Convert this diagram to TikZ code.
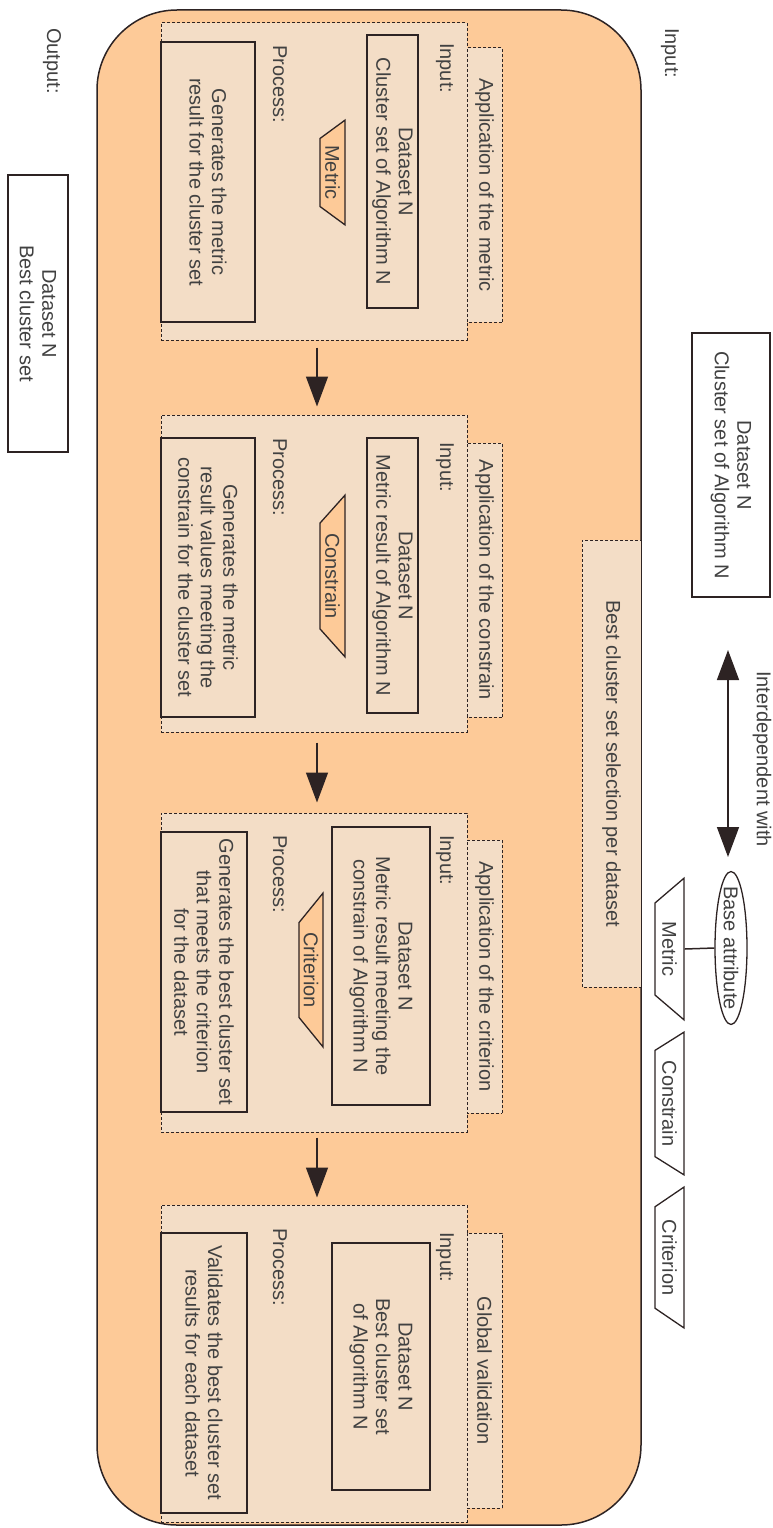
\documentclass[tikz,border=0pt]{standalone}
\usepackage{fontspec}
\setmainfont{Liberation Sans}
\usetikzlibrary{arrows.meta,shapes.geometric}

\definecolor{peach}{RGB}{253,202,152}
\definecolor{panelfill}{RGB}{243,221,198}
\definecolor{ink}{RGB}{45,35,35}
\definecolor{txtgray}{RGB}{65,65,65}

\tikzset{
  vtext/.style={rotate=-90, inner sep=0pt, text=txtgray, align=center,
                font=\fontsize{20}{22.5}\selectfont},
  solidbox/.style={vtext, draw=ink, line width=1.3pt, rectangle},
  dashbox/.style={draw=ink, line width=1pt, dash pattern=on 3pt off 2pt,
                  fill=panelfill, rectangle, inner sep=0pt},
  vdash/.style={vtext, dashbox},
  trap/.style={vtext, trapezium, trapezium stretches=true, draw=ink,
               line width=1.3pt},
  flow/.style={draw=ink, line width=1.5pt,
               -{Triangle[width=22pt,length=30pt]}},
}

\begin{document}
\begin{tikzpicture}[x=1pt, y=-1pt]
\useasboundingbox (0,0) rectangle (773,1528);

% outer container
\node[draw=ink, line width=1.5pt, fill=peach, rounded corners=80pt,
      minimum width=544pt, minimum height=1515pt, inner sep=0pt] (main) at (369,767.5) {};

% outside labels
\node[vtext, anchor=west] (inlabel) at (670,28) {Input:};
\node[vtext, anchor=west] (outlabel) at (52,28) {Output:};
\node[solidbox, minimum width=264pt, minimum height=78pt] (inbox) at (731,465)
  {Dataset N\\Cluster set of Algorithm N};
\node[solidbox, minimum width=277pt, minimum height=60pt] (outbox) at (38,313.5)
  {Dataset N\\Best cluster set};

% interdependency legend
\node[vtext] (inter) at (762,759) {Interdependent with};
\coordinate (ia) at (728,650);
\coordinate (ib) at (728,857);
\draw[draw=ink, line width=1.5pt,
      {Triangle[width=22pt,length=30pt]}-{Triangle[width=22pt,length=30pt]}] (ia) -- (ib);
\node[ellipse, draw=ink, line width=1.3pt, rotate=-90, inner sep=0pt,
      minimum width=153pt, minimum height=32pt] (attr) at (731,948) {};
\node[vtext] (attrtxt) at (attr.center) {Base attribute};
\node[trap, trapezium left angle=135, trapezium right angle=135,
      minimum width=142pt, minimum height=29pt] (lmet) at (669.5,949) {Metric};
\node[trap, trapezium left angle=135, trapezium right angle=135,
      minimum width=143pt, minimum height=29pt] (lcon) at (669.5,1103.5) {Constrain};
\node[trap, trapezium left angle=135, trapezium right angle=135,
      minimum width=141pt, minimum height=29pt] (lcri) at (669.5,1257.5) {Criterion};
\draw[draw=ink, line width=1.5pt] (attr.south) -- (lmet.top side);

% selection stage band
\node[vdash, minimum width=447pt, minimum height=59pt] (sel) at (611.5,763.5)
  {Best cluster set selection per dataset};

% stage 1: metric
\node[dashbox, minimum width=306pt, minimum height=317pt] (p1) at (314,181.5) {};
\node[vdash, minimum width=274pt, minimum height=35pt] (t1) at (484.5,185) {Application of the metric};
\node[vtext, anchor=west] (i1) at (445,43) {Input:};
\node[solidbox, minimum width=273pt, minimum height=51pt] (b1) at (392.5,171.5)
  {Dataset N\\Cluster set of Algorithm N};
\node[trap, fill=peach, trapezium left angle=135, trapezium right angle=135,
      minimum width=105pt, minimum height=25pt] (m1) at (332.5,172.5) {Metric};
\node[vtext, anchor=west] (r1) at (280,45) {Process:};
\node[solidbox, minimum width=280pt, minimum height=94pt] (q1) at (208,182)
  {Generates the metric\\result for the cluster set};

% stage 2: constrain
\node[dashbox, minimum width=306pt, minimum height=317pt] (p2) at (314,573.5) {};
\node[vdash, minimum width=274pt, minimum height=35pt] (t2) at (484.5,580) {Application of the constrain};
\node[vtext, anchor=west] (i2) at (445,442) {Input:};
\node[solidbox, minimum width=275pt, minimum height=51pt] (b2) at (392.5,575.5)
  {Dataset N\\Metric result of Algorithm N};
\node[trap, fill=peach, trapezium left angle=147, trapezium right angle=147,
      minimum width=162pt, minimum height=25pt] (m2) at (332.5,576) {Constrain};
\node[vtext, anchor=west] (r2) at (280,438) {Process:};
\node[solidbox, minimum width=279pt, minimum height=94pt] (q2) at (208,577.5)
  {Generates the metric\\result values meeting the\\constrain for the cluster set};

% stage 3: criterion
\node[dashbox, minimum width=306pt, minimum height=319pt] (p3) at (314,972.5) {};
\node[vdash, minimum width=273pt, minimum height=35pt] (t3) at (484.5,976.5) {Application of the criterion};
\node[vtext, anchor=west] (i3) at (445,835) {Input:};
\node[solidbox, minimum width=278pt, minimum height=98pt] (b3) at (381,966)
  {Dataset N\\Metric result meeting the\\constrain of Algorithm N};
\node[trap, fill=peach, trapezium left angle=148, trapezium right angle=148,
      minimum width=154pt, minimum height=24pt] (m3) at (311,970) {Criterion};
\node[vtext, anchor=west] (r3) at (280,835) {Process:};
\node[solidbox, minimum width=280pt, minimum height=86pt] (q3) at (204,972)
  {Generates the best cluster set\\that meets the criterion\\for the dataset};

% stage 4: global validation
\node[dashbox, minimum width=306pt, minimum height=317pt] (p4) at (314,1363.5) {};
\node[vdash, minimum width=275pt, minimum height=35pt] (t4) at (484.5,1370.5) {Global validation};
\node[vtext, anchor=west] (i4) at (445,1232) {Input:};
\node[solidbox, minimum width=247pt, minimum height=98pt] (b4) at (381,1366.5)
  {Dataset N\\Best cluster set\\of Algorithm N};
\node[vtext, anchor=west] (r4) at (280,1228) {Process:};
\node[solidbox, minimum width=280pt, minimum height=86pt] (q4) at (204,1373)
  {Validates the best cluster set\\results for each dataset};

% flow between stages
\draw[flow, shorten <=7pt, shorten >=8pt] ([xshift=3pt]p1.south) -- ([xshift=3pt]p2.north);
\draw[flow, shorten <=10pt, shorten >=10pt] ([xshift=3pt]p2.south) -- ([xshift=3pt]p3.north);
\draw[flow, shorten <=5pt, shorten >=7pt] ([xshift=3pt]p3.south) -- ([xshift=3pt]p4.north);
\end{tikzpicture}
\end{document}
